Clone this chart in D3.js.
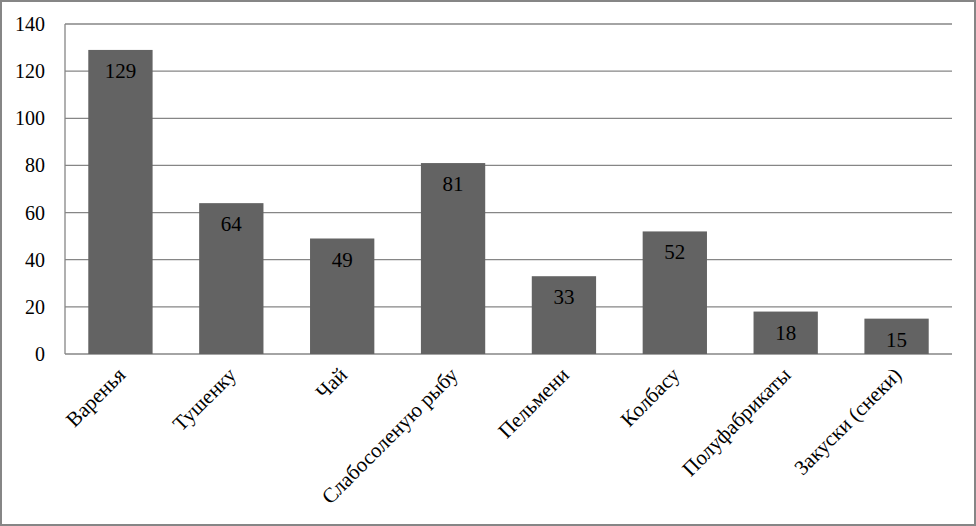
<!DOCTYPE html>
<html lang="ru">
<head>
<meta charset="UTF-8">
<title>Bar chart</title>
<script src="https://cdn.jsdelivr.net/npm/d3@7"></script>
<style>
  body { margin: 0; background: #fff; }
  text { font-family: "Liberation Serif", "DejaVu Serif", serif; }
</style>
</head>
<body>
<script>
// data
var categories = ["Варенья", "Тушенку", "Чай", "Слабосоленую рыбу", "Пельмени", "Колбасу", "Полуфабрикаты", "Закуски (снеки)"];
var values = [129, 64, 49, 81, 33, 52, 18, 15];
var yTicks = [0, 20, 40, 60, 80, 100, 120, 140];

var W = 976, H = 526;
var m = {left: 65, right: 24, top: 24, bottom: 172};

var svg = d3.select("body").append("svg").attr("width", W).attr("height", H);

// outer frame
svg.append("rect").attr("x", 1).attr("y", 1).attr("width", W - 2).attr("height", H - 2)
  .attr("fill", "#fff").attr("stroke", "#868686").attr("stroke-width", 2);

var x = d3.scaleBand().domain(categories).range([m.left, W - m.right]).paddingInner(0.42).paddingOuter(0.21);
var y = d3.scaleLinear().domain([0, 140]).range([H - m.bottom, m.top]);

// gridlines
svg.append("g").selectAll("line").data(yTicks).enter().append("line")
  .attr("x1", m.left).attr("x2", W - m.right)
  .attr("y1", function(d){ return y(d); }).attr("y2", function(d){ return y(d); })
  .attr("stroke", "#868686").attr("stroke-width", 1.3);

// y axis line
svg.append("line").attr("x1", m.left).attr("x2", m.left)
  .attr("y1", y(0)).attr("y2", y(140)).attr("stroke", "#868686").attr("stroke-width", 1.3);

// y tick labels
svg.append("g").selectAll("text").data(yTicks).enter().append("text")
  .attr("x", m.left - 20).attr("y", function(d){ return y(d); })
  .attr("dy", "0.35em").attr("text-anchor", "end").attr("font-size", 20)
  .text(function(d){ return d; });

// bars
svg.append("g").selectAll("rect").data(values).enter().append("rect")
  .attr("x", function(d, i){ return x(categories[i]); })
  .attr("y", function(d){ return y(d); })
  .attr("width", x.bandwidth())
  .attr("height", function(d){ return y(0) - y(d); })
  .attr("fill", "#636363");

// value labels
svg.append("g").selectAll("text").data(values).enter().append("text")
  .attr("x", function(d, i){ return x(categories[i]) + x.bandwidth() / 2; })
  .attr("y", function(d){ return y(d) + 28; })
  .attr("text-anchor", "middle").attr("font-size", 21)
  .text(function(d){ return d; });

// category labels, rotated
svg.append("g").selectAll("text").data(categories).enter().append("text")
  .attr("transform", function(d){
    var cx = x(d) + x.bandwidth() / 2 + 1;
    return "translate(" + cx + "," + (y(0) + 17) + ") rotate(-45)";
  })
  .attr("text-anchor", "end").attr("dy", "0.35em").attr("font-size", 21)
  .text(function(d){ return d; });
</script>
</body>
</html>
